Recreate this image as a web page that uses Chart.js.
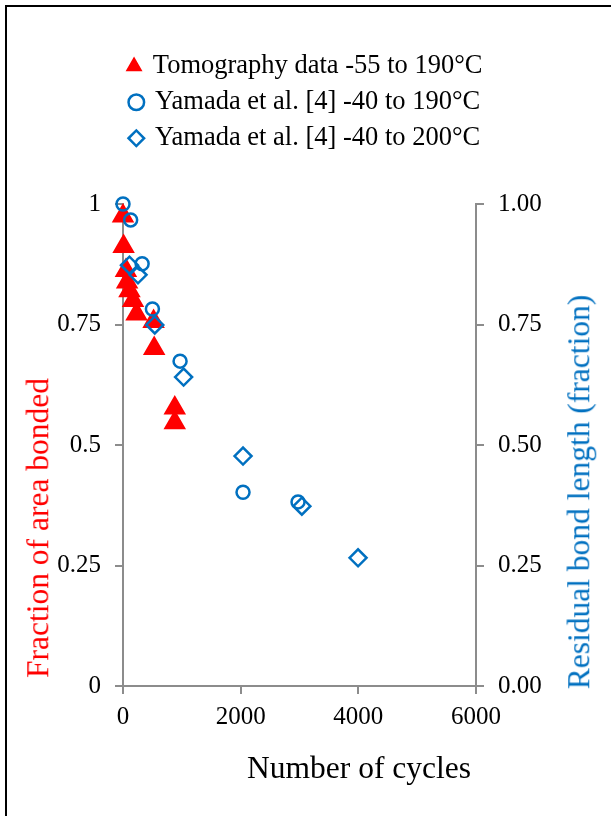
<!DOCTYPE html>
<html><head><meta charset="utf-8">
<script src="https://cdn.jsdelivr.net/npm/chart.js@4.4.1/dist/chart.umd.min.js"></script>
<style>
html,body{margin:0;padding:0;background:#fff;width:611px;height:816px;overflow:hidden;}
#wrap{position:relative;width:611px;height:816px;overflow:hidden;}
#frame{position:absolute;left:5px;top:5px;width:700px;height:900px;border-left:2px solid #000;border-top:2px solid #000;}
canvas{position:absolute;left:0;top:0;}
.t{position:absolute;font-family:"Liberation Serif","Times New Roman",serif;font-size:31.5px;line-height:1;white-space:nowrap;transform:translate(-50%,-50%);}
</style></head><body>
<div id="wrap"><div id="frame"></div><canvas id="c" width="611" height="816"></canvas>
<div class="t" id="xt" style="left:359px;top:768px;color:#000">Number of cycles</div>
<div class="t" id="ylt" style="left:38px;top:528px;color:#FF0000;transform:translate(-50%,-50%) rotate(-90deg)">Fraction of area bonded</div>
<div class="t" id="yrt" style="left:579px;top:492px;color:#0070C0;transform:translate(-50%,-50%) rotate(-90deg)">Residual bond length (fraction)</div>
</div>
<script>
// ---- data ----
const seriesNames = ['Tomography data -55 to 190°C', 'Yamada et al. [4] -40 to 190°C', 'Yamada et al. [4] -40 to 200°C'];
const tomoCycles   = [0, 10, 50, 70, 110, 170, 230, 520, 530, 880, 880];
const tomoFraction = [0.975, 0.912, 0.862, 0.838, 0.82, 0.80, 0.772, 0.756, 0.70, 0.577, 0.546];
const yam190Cycles = [0, 130, 325, 500, 970, 2040, 2975];
const yam190Length = [1.0, 0.967, 0.876, 0.782, 0.674, 0.402, 0.382];
const yam200Cycles = [110, 255, 540, 1030, 2040, 3040, 3995];
const yam200Length = [0.873, 0.853, 0.749, 0.641, 0.477, 0.373, 0.266];
const xTickLabels     = ['0', '2000', '4000', '6000'];
const leftTickLabels  = ['0', '0.25', '0.5', '0.75', '1'];
const rightTickLabels = ['0.00', '0.25', '0.50', '0.75', '1.00'];

const pts = (xs, ys) => xs.map((x, i) => ({x: x, y: ys[i]}));
const FONT = '"Liberation Serif", "Times New Roman", serif';
const RED = '#FF0000', BLUE = '#0070C0', AX = '#8c8c8c';

const axisGrid = {display: true, drawOnChartArea: false, drawTicks: true, tickLength: 8, color: AX, lineWidth: 2};

new Chart(document.getElementById('c'), {
  type: 'scatter',
  data: {
    datasets: [
      {label: seriesNames[0], data: pts(tomoCycles, tomoFraction), yAxisID: 'y', order: 3,
       pointStyle: 'triangle', pointRadius: 11, backgroundColor: RED, borderColor: RED, borderWidth: 2, clip: false},
      {label: seriesNames[1], data: pts(yam190Cycles, yam190Length), yAxisID: 'y2', order: 1,
       pointStyle: 'circle', pointRadius: 6.5, backgroundColor: 'rgba(0,0,0,0)', borderColor: BLUE, borderWidth: 2.5, clip: false},
      {label: seriesNames[2], data: pts(yam200Cycles, yam200Length), yAxisID: 'y2', order: 2,
       pointStyle: 'rectRot', pointRadius: 8.5, backgroundColor: 'rgba(0,0,0,0)', borderColor: BLUE, borderWidth: 2.5, clip: false}
    ]
  },
  options: {
    responsive: false, animation: false, events: [],
    layout: {padding: {top: 43.5, left: 0, right: 0, bottom: 0}},
    plugins: {
      tooltip: {enabled: false},
      legend: {
        position: 'top', align: 'center',
        labels: {usePointStyle: true, boxWidth: 11, boxHeight: 11, padding: 9.5, color: '#000',
                 font: {family: FONT, size: 26.5}, sort: (a, b) => a.datasetIndex - b.datasetIndex}
      }
    },
    scales: {
      x: {type: 'linear', position: 'bottom', min: 0, max: 6000,
          grid: axisGrid, border: {display: true, color: AX, width: 2},
          ticks: {stepSize: 2000, padding: 8, color: '#000', font: {family: FONT, size: 25},
                  callback: (v, i) => xTickLabels[i]},
          afterFit: s => { s.height = 130; }},
      y: {type: 'linear', position: 'left', min: 0, max: 1,
          grid: axisGrid, border: {display: true, color: AX, width: 2},
          ticks: {stepSize: 0.25, padding: 14, color: '#000', font: {family: FONT, size: 25},
                  callback: (v, i) => leftTickLabels[i]},
          afterFit: s => { s.width = 123; }},
      y2: {type: 'linear', position: 'right', min: 0, max: 1,
          grid: axisGrid, border: {display: true, color: AX, width: 2},
          ticks: {stepSize: 0.25, padding: 14, color: '#000', font: {family: FONT, size: 25},
                  callback: (v, i) => rightTickLabels[i]},
          afterFit: s => { s.width = 135; }},
      spacer: {type: 'linear', position: 'top', display: true,
          grid: {display: false}, border: {display: false}, ticks: {display: false},
          afterFit: s => { s.height = 42.5; }}
    }
  }
});
</script>
</body></html>
